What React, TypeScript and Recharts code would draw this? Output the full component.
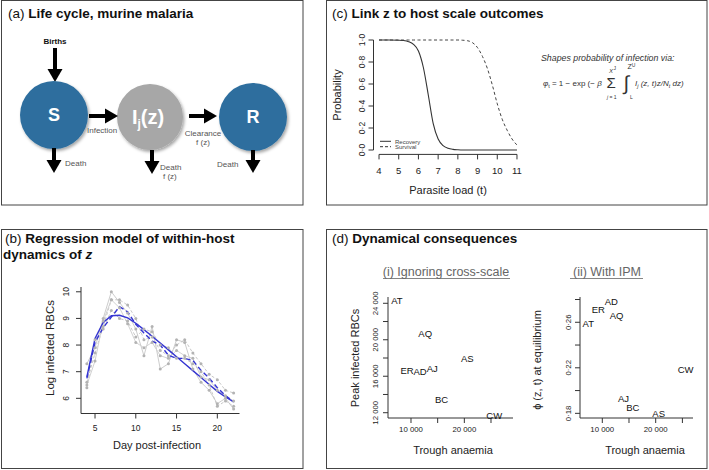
import React from 'react';
import { LineChart, Line, XAxis, YAxis, ComposedChart, ScatterChart, Scatter, ReferenceLine } from 'recharts';

const W = 709;
const H = 470;
const FONT = '"Liberation Sans", Arial, Helvetica, sans-serif';
const INK = '#222';
const AXW = 30; // y-axis width reserved
const AXH = 30; // x-axis height reserved

// ---------- Panel (b): within-host dynamics ----------
const days = [4, 5, 6, 7, 8, 9, 10, 11, 12, 13, 14, 15, 16, 17, 18, 19, 20, 21, 22];
const mouseA = [7.3, 7.9, 9.0, 10.0, 9.6, 9.2, 8.6, 7.6, 8.7, 7.1, 7.3, 8.2, 8.1, 7.1, 6.6, 6.3, 5.8, 6.0, 5.6];
const mouseB = [6.6, 7.7, 8.7, 9.7, 9.7, 9.5, 9.0, 8.2, 8.3, 7.8, 7.6, 8.0, 8.2, 7.7, 7.3, 6.9, 6.7, 6.3, 6.2];
const mouseC = [6.5, 7.4, 8.9, 9.7, 9.4, 8.8, 8.1, 7.9, 8.1, 7.6, 7.5, 7.8, 7.6, 7.5, 6.8, 6.7, 6.3, 6.1, 5.9];
const mouseD = [6.4, 8.2, 8.6, 9.3, 9.0, 8.9, 8.3, 8.6, 8.5, 8.0, 7.9, 7.5, 7.5, 7.3, 7.0, 6.5, 5.7, 5.9, 5.7];
const fitSolid = [6.8, 8.25, 8.85, 9.1, 9.12, 9.02, 8.82, 8.58, 8.33, 8.08, 7.82, 7.56, 7.3, 7.04, 6.78, 6.52, 6.26, 6.05, 5.87];
const fitDashed = [6.75, 8.1, 8.65, 9.05, 9.44, 9.25, 8.78, 8.45, 8.15, 8.0, 7.62, 7.5, 7.5, 7.42, 7.05, 6.76, 6.4, 6.1, 5.87];
const dayTicks = [5, 10, 15, 20];
const logTicks = [6, 7, 8, 9, 10];

// ---------- Panel (c): probability curves ----------
const parasiteLoad = [4, 4.5, 5, 5.25, 5.5, 5.75, 6, 6.25, 6.5, 6.75, 7, 7.25, 7.5, 7.75, 8, 8.25, 8.5, 8.75, 9, 9.25, 9.5, 9.75, 10, 10.25, 10.5, 10.75, 11];
const recovery = [1.0, 1.0, 0.998, 0.995, 0.985, 0.96, 0.9, 0.75, 0.5, 0.24, 0.1, 0.04, 0.016, 0.006, 0.002, 0, 0, 0, 0, 0, 0, 0, 0, 0, 0, 0, 0];
const survival = [1.0, 1.0, 1.0, 1.0, 1.0, 1.0, 1.0, 1.0, 1.0, 1.0, 1.0, 1.0, 1.0, 1.0, 1.0, 0.998, 0.993, 0.975, 0.93, 0.85, 0.74, 0.59, 0.42, 0.28, 0.18, 0.1, 0.045];
const loadTicks = [4, 5, 6, 7, 8, 9, 10, 11];
const probTicks = [0, 0.2, 0.4, 0.6, 0.8, 1.0];

// ---------- Panel (d): dynamical consequences ----------
const strains = ['AT', 'ER', 'AD', 'AQ', 'AJ', 'BC', 'AS', 'CW'];
const troughAnaemia = [7370, 9250, 11700, 12670, 13980, 15730, 20560, 25600];
const peakInfected = [24340, 16660, 16480, 20670, 16850, 13430, 17950, 11700];
const phiEquilibrium = [0.2591, 0.2714, 0.278, 0.2663, 0.1932, 0.1854, 0.1797, 0.2187];
const anaemiaTicks = [10000, 15000, 20000, 25000];
const anaemiaLabels = [10000, 20000];
const peakTicks = [12000, 14000, 16000, 18000, 20000, 22000, 24000];
const peakLabels = [12000, 16000, 20000, 24000];
const phiTicks = [0.18, 0.2, 0.22, 0.24, 0.26, 0.28];
const phiLabels = [0.18, 0.22, 0.26];

const withinHostData = days.map((d, i) => ({
  day: d, a: mouseA[i], b: mouseB[i], c: mouseC[i], d: mouseD[i], fit: fitSolid[i], fitDash: fitDashed[i],
}));
const probData = parasiteLoad.map((t, i) => ({ t, rec: recovery[i], surv: survival[i] }));
const peakData = strains.map((s, i) => ({ name: s, x: troughAnaemia[i], y: peakInfected[i] }));
const phiData = strains.map((s, i) => ({ name: s, x: troughAnaemia[i], y: phiEquilibrium[i] }));

const thousands = (v: number) => {
  const s = String(Math.round(v));
  return s.length > 3 ? s.slice(0, s.length - 3) + ' ' + s.slice(-3) : s;
};
const dotDec = (digits: number) => (v: number) => v.toFixed(digits).replace('.', '\u00b7');

function RotTick(props: any) {
  const { x, y, payload, fmt, fs } = props;
  const label = fmt(payload.value);
  if (!label) return <g />;
  return (
    <text x={x} y={y} transform={`rotate(-90 ${x} ${y})`} textAnchor="middle" fontSize={fs} fill={INK} fontFamily={FONT}>
      {label}
    </text>
  );
}
function BotTick(props: any) {
  const { x, y, payload, fmt, fs } = props;
  const label = fmt(payload.value);
  if (!label) return <g />;
  return (
    <text x={x} y={y} dy="0.71em" textAnchor="middle" fontSize={fs} fill={INK} fontFamily={FONT}>
      {label}
    </text>
  );
}
function StrainLabel(props: any) {
  const { cx, cy, payload } = props;
  return (
    <text x={cx} y={cy} dy="0.36em" textAnchor="middle" fontSize={9.5} fill="#111" fontFamily={FONT}>
      {payload.name}
    </text>
  );
}

const layer: React.CSSProperties = { position: 'absolute', left: 0, top: 0 };
// plot-area box -> chart margins (axes reserve AXW on the left, AXH at the bottom)
const box = (l: number, t: number, r: number, b: number) => ({ left: l - AXW, top: t, right: W - r, bottom: H - b - AXH });

function Arrow({ x1, y1, x2, y2 }: { x1: number; y1: number; x2: number; y2: number }) {
  const dx = x2 - x1, dy = y2 - y1;
  const len = Math.hypot(dx, dy);
  const ux = dx / len, uy = dy / len;
  const hl = 13, hw = 7.5;
  const bx = x2 - ux * hl, by = y2 - uy * hl;
  return (
    <g>
      <line x1={x1} y1={y1} x2={bx + ux} y2={by + uy} stroke="#000" strokeWidth={4} />
      <polygon points={`${x2},${y2} ${bx - uy * hw},${by + ux * hw} ${bx + uy * hw},${by - ux * hw}`} fill="#000" />
    </g>
  );
}

function Overlay() {
  const small = { fontFamily: FONT, fontSize: 8, fill: '#555' } as const;
  return (
    <svg width={W} height={H} style={layer}>
      <defs>
        <filter id="sh" x="-20%" y="-20%" width="150%" height="150%">
          <feDropShadow dx="1.5" dy="2" stdDeviation="1.8" floodColor="#000" floodOpacity="0.35" />
        </filter>
      </defs>
      <rect x={0} y={0} width={W} height={H} fill="#fff" />
      {/* panel frames */}
      <rect x={1.5} y={0.5} width={301.5} height={204.5} fill="none" stroke="#444" strokeWidth={1} />
      <rect x={326.5} y={0.5} width={380.5} height={204.5} fill="none" stroke="#444" strokeWidth={1} />
      <rect x={1.5} y={229.5} width={301.5} height={239} fill="none" stroke="#444" strokeWidth={1} />
      <rect x={326.5} y={229.5} width={380.5} height={239} fill="none" stroke="#444" strokeWidth={1} />

      {/* titles */}
      <text x={8} y={17.5} fontFamily={FONT} fontSize={13.5} fill="#111">
        (a) <tspan fontWeight="bold">Life cycle, murine malaria</tspan>
      </text>
      <text x={332} y={17.5} fontFamily={FONT} fontSize={13.5} fill="#111">
        (c) <tspan fontWeight="bold">Link z to host scale outcomes</tspan>
      </text>
      <text x={5} y={243} fontFamily={FONT} fontSize={13.5} fill="#111">
        (b) <tspan fontWeight="bold">Regression model of within-host</tspan>
      </text>
      <text x={3} y={258.5} fontFamily={FONT} fontSize={13.5} fill="#111" fontWeight="bold">
        dynamics of <tspan fontStyle="italic">z</tspan>
      </text>
      <text x={332} y={243} fontFamily={FONT} fontSize={13.5} fill="#111">
        (d) <tspan fontWeight="bold">Dynamical consequences</tspan>
      </text>

      {/* panel (a) diagram */}
      <text x={55} y={44} textAnchor="middle" fontFamily={FONT} fontSize={8} fontWeight="bold" fill="#111">Births</text>
      <Arrow x1={55} y1={48} x2={55} y2={82} />
      <circle cx={54} cy={115} r={34} fill="#2d6e9e" filter="url(#sh)" />
      <circle cx={150} cy={117} r={33} fill="#a7a7a7" filter="url(#sh)" />
      <circle cx={253} cy={117} r={34} fill="#2d6e9e" filter="url(#sh)" />
      <text x={54} y={115} dy="0.36em" textAnchor="middle" fontFamily={FONT} fontSize={18} fontWeight="bold" fill="#fff">S</text>
      <text x={253} y={117} dy="0.36em" textAnchor="middle" fontFamily={FONT} fontSize={18} fontWeight="bold" fill="#fff">R</text>
      <text x={148} y={117} dy="0.36em" textAnchor="middle" fontFamily={FONT} fontSize={20} fontWeight="bold" fill="#fff">
        I<tspan fontSize={12} dy="4">j</tspan><tspan dy="-4">(z)</tspan>
      </text>
      <Arrow x1={89} y1={116} x2={118} y2={116} />
      <Arrow x1={189} y1={116} x2={217} y2={116} />
      <Arrow x1={54} y1={148} x2={54} y2={173} />
      <Arrow x1={152} y1={150} x2={152} y2={174} />
      <Arrow x1={253} y1={150} x2={253} y2={173} />
      <text x={87} y={133} {...small}>Infection</text>
      <text x={203} y={135.5} textAnchor="middle" {...small}>Clearance</text>
      <text x={203} y={144.5} textAnchor="middle" {...small}>f (z)</text>
      <text x={65} y={165.5} {...small}>Death</text>
      <text x={160} y={169.5} {...small}>Death</text>
      <text x={163} y={179} {...small}>f (z)</text>
      <text x={217} y={167} {...small}>Death</text>

      {/* panel (c) axis titles, legend, formula */}
      <text x={448} y={194} textAnchor="middle" fontFamily={FONT} fontSize={11} fill={INK}>Parasite load (t)</text>
      <text x={337} y={95} dy="0.36em" transform="rotate(-90 337 95)" textAnchor="middle" fontFamily={FONT} fontSize={11} fill={INK}>Probability</text>
      <line x1={380} y1={141.3} x2={391} y2={141.3} stroke="#333" strokeWidth={1} />
      <line x1={380} y1={146.7} x2={391} y2={146.7} stroke="#333" strokeWidth={1} strokeDasharray="3 2" />
      <text x={395} y={143.5} fontFamily={FONT} fontSize={6} fill="#444">Recovery</text>
      <text x={395} y={149} fontFamily={FONT} fontSize={6} fill="#444">Survival</text>
      <text x={541} y={61} fontFamily={FONT} fontSize={8.8} fontStyle="italic" fill="#333">Shapes probability of infection via:</text>
      <g fontFamily={FONT} fill="#333">
        <text x={543} y={86} fontSize={8}>
          <tspan fontStyle="italic">φ</tspan><tspan fontSize={5.5} dy="1.5">t</tspan><tspan dy="-1.5"> = 1 − exp (− </tspan><tspan fontStyle="italic">β</tspan>
        </text>
        <text x={606.5} y={88} fontSize={15}>Σ</text>
        <text x={609} y={73} fontSize={6} fontStyle="italic">X</text>
        <text x={613.5} y={70} fontSize={5}>J</text>
        <text x={607} y={98.5} fontSize={5}><tspan fontStyle="italic">j</tspan> = 1</text>
        <text x={623.5} y={90} fontSize={20} fontWeight="100">∫</text>
        <text x={627.5} y={69} fontSize={7}>Z<tspan fontSize={5} dy="-2">U</tspan></text>
        <text x={630} y={98.5} fontSize={5}>L</text>
        <text x={635} y={86} fontSize={8} fontStyle="italic">
          I<tspan fontSize={5.5} dy="1.5">j</tspan><tspan dy="-1.5"> (z, t)z/N</tspan><tspan fontSize={5.5} dy="1.5">t</tspan><tspan dy="-1.5"> dz)</tspan>
        </text>
      </g>

      {/* panel (b) axis titles */}
      <text x={157} y={448.5} textAnchor="middle" fontFamily={FONT} fontSize={11} fill={INK}>Day post-infection</text>
      <text x={50} y={348} dy="0.36em" transform="rotate(-90 50 348)" textAnchor="middle" fontFamily={FONT} fontSize={11.5} fill={INK}>Log infected RBCs</text>

      {/* panel (d) subtitles and axis titles */}
      <text x={446} y={275.5} textAnchor="middle" fontFamily={FONT} fontSize={12.5} fill="#666">(i) Ignoring cross-scale</text>
      <line x1={383} y1={278.5} x2={510} y2={278.5} stroke="#666" strokeWidth={0.8} />
      <text x={607} y={275.5} textAnchor="middle" fontFamily={FONT} fontSize={12.5} fill="#666">(ii) With IPM</text>
      <line x1={570} y1={278.5} x2={643} y2={278.5} stroke="#666" strokeWidth={0.8} />
      <text x={453} y={454} textAnchor="middle" fontFamily={FONT} fontSize={11} fill={INK}>Trough anaemia</text>
      <text x={645} y={454} textAnchor="middle" fontFamily={FONT} fontSize={11} fill={INK}>Trough anaemia</text>
      <text x={355} y={358} dy="0.36em" transform="rotate(-90 355 358)" textAnchor="middle" fontFamily={FONT} fontSize={11} fill={INK}>Peak infected RBCs</text>
      <text x={537} y={360} dy="0.36em" transform="rotate(-90 537 360)" textAnchor="middle" fontFamily={FONT} fontSize={11} fill={INK}>ϕ (z, t) at equilibrium</text>
    </svg>
  );
}

export default function App() {
  const axisStroke = '#333';
  return (
    <div style={{ position: 'relative', width: W, height: H, background: '#fff', fontFamily: FONT, overflow: 'hidden' }}>
      <style>{'body{margin:0}'}</style>
      <Overlay />

      {/* panel (c) */}
      <div style={layer}>
        <LineChart width={W} height={H} data={probData} margin={box(373.5, 35.6, 522.5, 154.4)}>
          <XAxis dataKey="t" type="number" domain={[3.72, 11.28]} ticks={loadTicks} interval={0} height={AXH}
            axisLine={false} tickLine={{ stroke: axisStroke }} tickSize={5} tickMargin={8}
            tick={(p: any) => <BotTick {...p} fmt={(v: number) => String(v)} fs={9.5} />} />
          <YAxis type="number" domain={[-0.04, 1.04]} ticks={probTicks} interval={0} width={AXW}
            axisLine={false} tickLine={{ stroke: axisStroke }} tickSize={5} tickMargin={4}
            tick={(p: any) => <RotTick {...p} fmt={dotDec(1)} fs={8.5} />} />
          <ReferenceLine segment={[{ x: 4, y: -0.04 }, { x: 11, y: -0.04 }]} stroke={axisStroke} ifOverflow="visible" />
          <ReferenceLine segment={[{ x: 3.72, y: 0 }, { x: 3.72, y: 1 }]} stroke={axisStroke} ifOverflow="visible" />
          <Line dataKey="rec" type="monotone" stroke="#333" strokeWidth={1.1} dot={false} isAnimationActive={false} />
          <Line dataKey="surv" type="monotone" stroke="#444" strokeWidth={1} strokeDasharray="3 2.5" dot={false} isAnimationActive={false} />
        </LineChart>
      </div>

      {/* panel (b) */}
      <div style={layer}>
        <ComposedChart width={W} height={H} data={withinHostData} margin={box(81, 287, 239.5, 413.5)}>
          <XAxis dataKey="day" type="number" domain={[3.28, 22.72]} ticks={dayTicks} interval={0} height={AXH}
            axisLine={{ stroke: axisStroke }} tickLine={{ stroke: axisStroke }} tickSize={5} tickMargin={6}
            tick={(p: any) => <BotTick {...p} fmt={(v: number) => String(v)} fs={8.5} />} />
          <YAxis type="number" domain={[5.43, 10.18]} ticks={logTicks} interval={0} width={AXW}
            axisLine={{ stroke: axisStroke }} tickLine={{ stroke: axisStroke }} tickSize={5} tickMargin={7}
            tick={(p: any) => <RotTick {...p} fmt={(v: number) => String(v)} fs={8.5} />} />
          <Line dataKey="a" type="linear" stroke="#cdcdcd" strokeWidth={1} dot={{ r: 1.5, fill: '#b3b3b3', stroke: 'none' }} isAnimationActive={false} />
          <Line dataKey="b" type="linear" stroke="#c8c8c8" strokeWidth={1} strokeDasharray="3 2" dot={{ r: 1.5, fill: '#b3b3b3', stroke: 'none' }} isAnimationActive={false} />
          <Line dataKey="c" type="linear" stroke="#d2d2d2" strokeWidth={1} dot={{ r: 1.5, fill: '#b3b3b3', stroke: 'none' }} isAnimationActive={false} />
          <Line dataKey="d" type="linear" stroke="#c8c8c8" strokeWidth={1} strokeDasharray="3 2" dot={{ r: 1.5, fill: '#b3b3b3', stroke: 'none' }} isAnimationActive={false} />
          <Line dataKey="fitDash" type="linear" stroke="#3434d2" strokeWidth={1.4} strokeDasharray="5 3" dot={false} isAnimationActive={false} />
          <Line dataKey="fit" type="linear" stroke="#3434d2" strokeWidth={1.4} dot={false} isAnimationActive={false} />
        </ComposedChart>
      </div>

      {/* panel (d) i */}
      <div style={layer}>
        <ScatterChart width={W} height={H} margin={box(388, 297, 513, 418)}>
          <XAxis dataKey="x" type="number" domain={[5690, 29125]} ticks={anaemiaTicks} interval={0} height={AXH}
            axisLine={{ stroke: axisStroke }} tickLine={{ stroke: axisStroke }} tickSize={5} tickMargin={3}
            tick={(p: any) => <BotTick {...p} fmt={(v: number) => (anaemiaLabels.includes(v) ? thousands(v) : '')} fs={7.8} />} />
          <YAxis dataKey="y" type="number" domain={[11420, 24690]} ticks={peakTicks} interval={0} width={AXW}
            axisLine={{ stroke: axisStroke }} tickLine={{ stroke: axisStroke }} tickSize={5} tickMargin={5}
            tick={(p: any) => <RotTick {...p} fmt={(v: number) => (peakLabels.includes(v) ? thousands(v) : '')} fs={7.8} />} />
          <Scatter data={peakData} shape={(p: any) => <StrainLabel {...p} />} isAnimationActive={false} />
        </ScatterChart>
      </div>

      {/* panel (d) ii */}
      <div style={layer}>
        <ScatterChart width={W} height={H} margin={box(580, 297, 693, 418)}>
          <XAxis dataKey="x" type="number" domain={[5824, 26985]} ticks={anaemiaTicks} interval={0} height={AXH}
            axisLine={{ stroke: axisStroke }} tickLine={{ stroke: axisStroke }} tickSize={5} tickMargin={3}
            tick={(p: any) => <BotTick {...p} fmt={(v: number) => (anaemiaLabels.includes(v) ? thousands(v) : '')} fs={7.8} />} />
          <YAxis dataKey="y" type="number" domain={[0.1759, 0.2822]} ticks={phiTicks} interval={0} width={AXW}
            axisLine={{ stroke: axisStroke }} tickLine={{ stroke: axisStroke }} tickSize={5} tickMargin={4}
            tick={(p: any) => <RotTick {...p} fmt={(v: number) => (phiLabels.some((l) => Math.abs(l - v) < 1e-6) ? dotDec(2)(v) : '')} fs={7.8} />} />
          <Scatter data={phiData} shape={(p: any) => <StrainLabel {...p} />} isAnimationActive={false} />
        </ScatterChart>
      </div>
    </div>
  );
}
